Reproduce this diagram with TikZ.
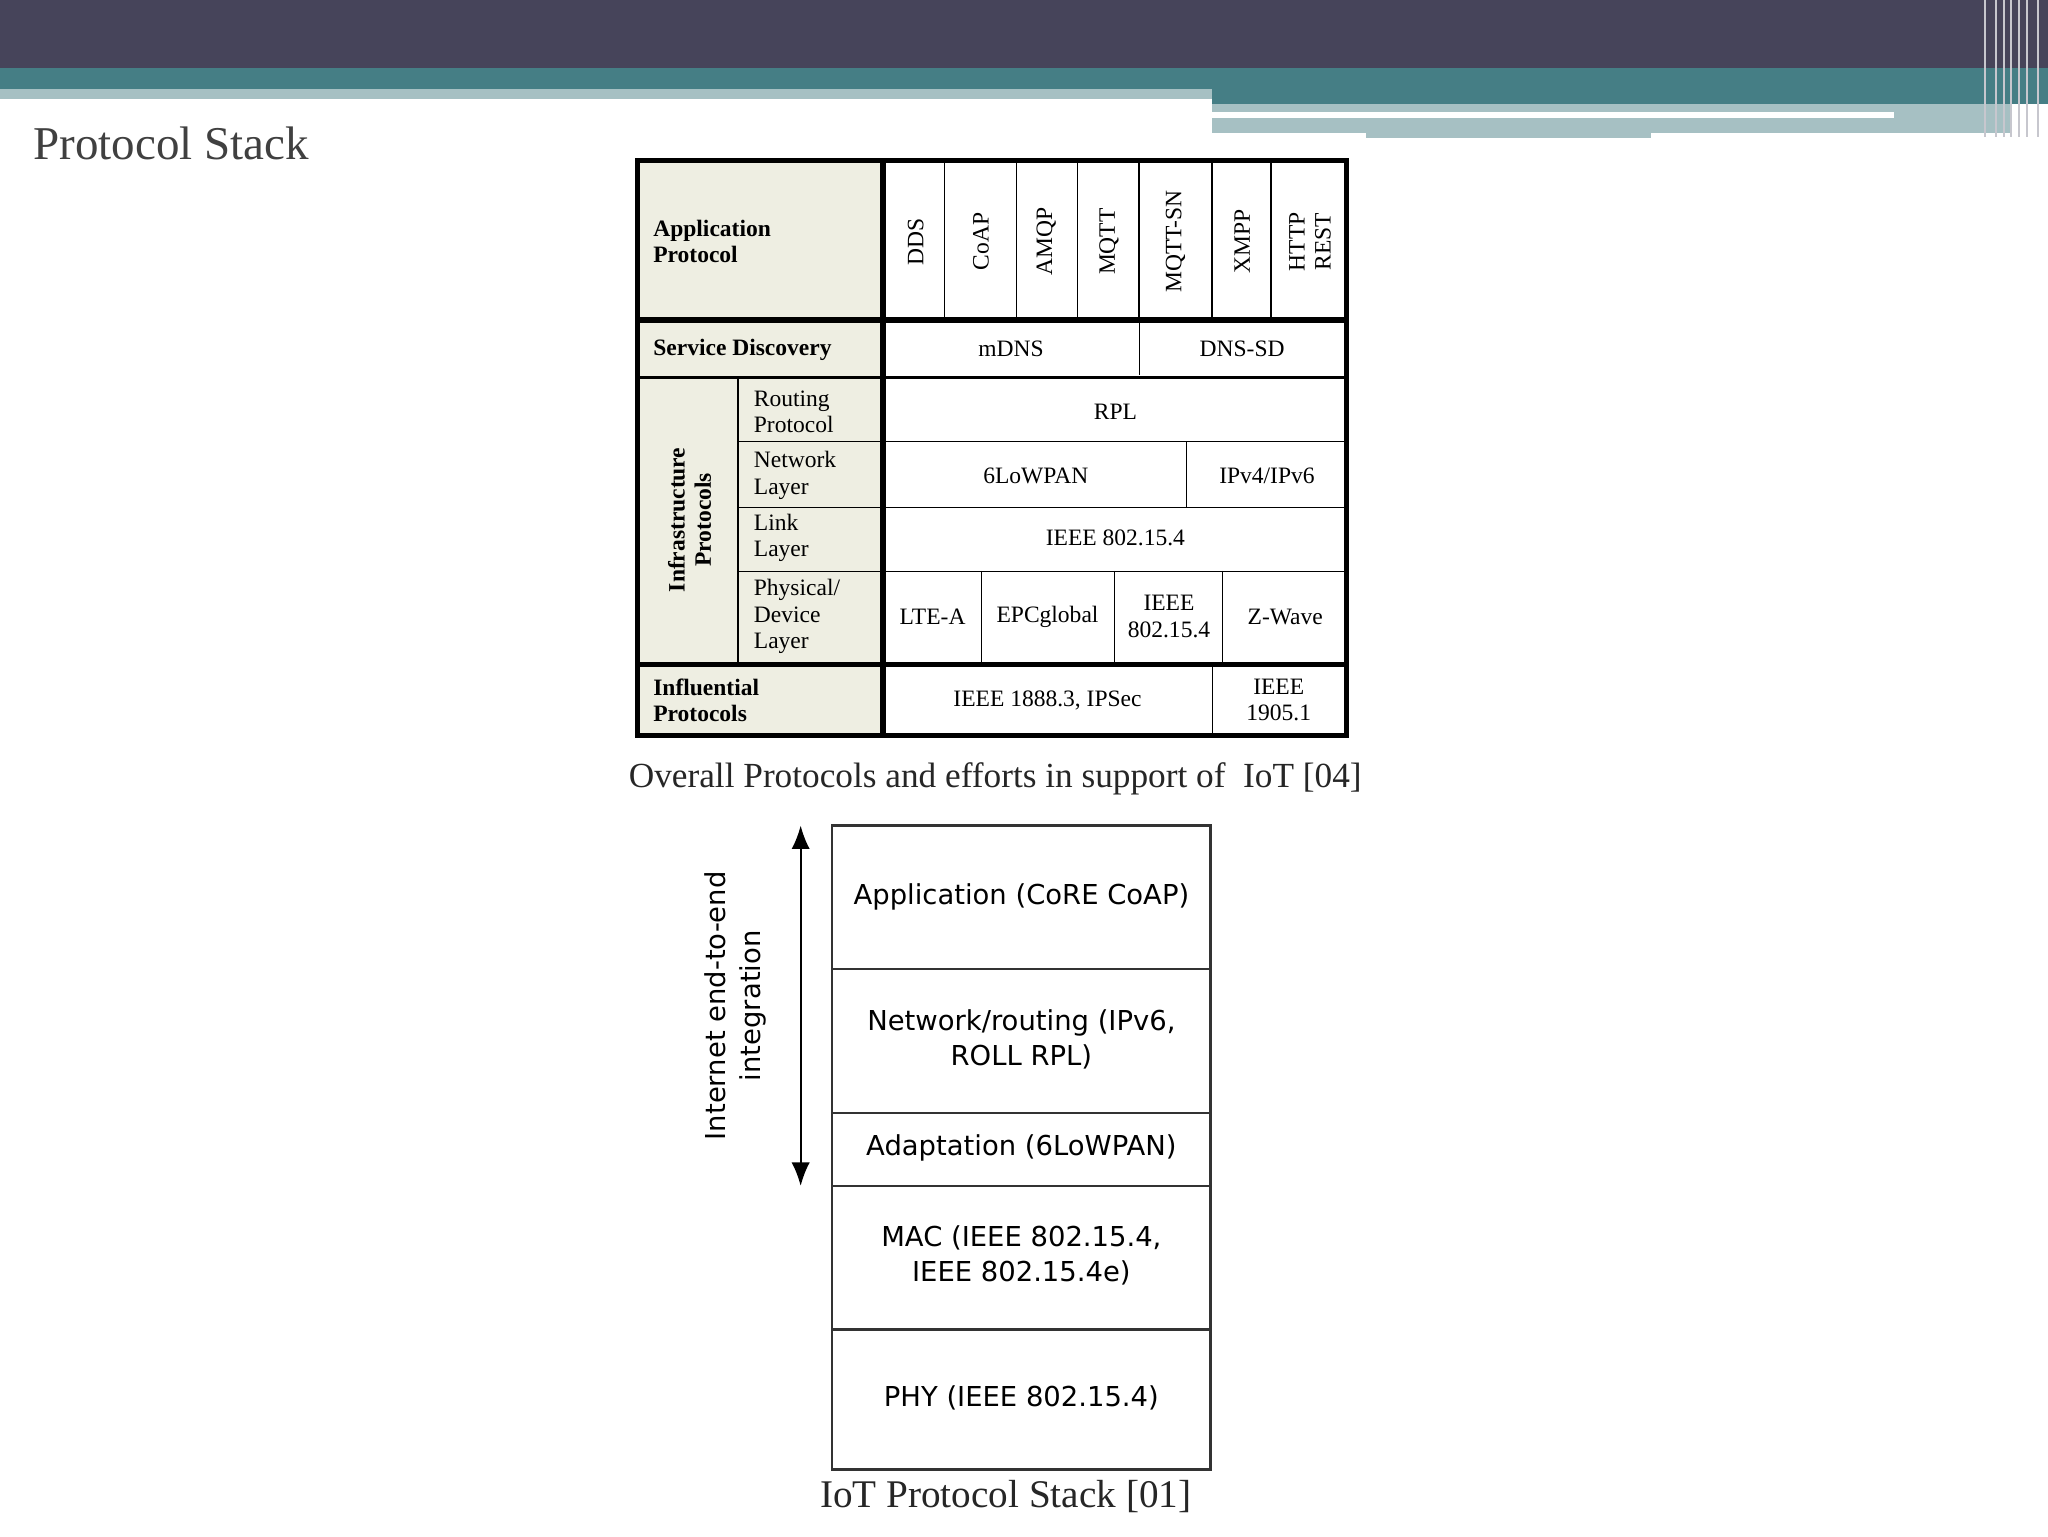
\documentclass[tikz,border=0pt]{standalone}
\usepackage{fontspec}
\usetikzlibrary{arrows.meta}
\setmainfont{Liberation Serif}
\newfontfamily\stk{DejaVu Sans}
\definecolor{dark}{HTML}{46445A}
\definecolor{teal}{HTML}{457E85}
\definecolor{lteal}{HTML}{A6C0C3}
\definecolor{beige}{HTML}{EEEEE2}
\begin{document}
\begin{tikzpicture}[x=1pt,y=-1pt,
 tt/.style={font=\fontsize{18}{20}\selectfont,align=center,inner sep=0},
 tb/.style={font=\bfseries\fontsize{18}{20}\selectfont,align=left,anchor=west,inner sep=0},
 st/.style={font=\stk\fontsize{21}{27}\selectfont,align=center,inner sep=0}]
\useasboundingbox (0,0) rectangle (1568,1176);
\fill[white] (0,0) rectangle (1568,1176);
% top bar
\fill[lteal] (0,68) rectangle (928,76);
\fill[lteal] (928,80) rectangle (1540,105);
\fill[white] (928,86) rectangle (1450,90);
\fill[white] (928,102) rectangle (1540,106);
\fill[lteal] (1046,100) rectangle (1264,106);
\fill[teal] (0,52) rectangle (1568,68);
\fill[teal] (928,52) rectangle (1568,80);
\fill[dark] (0,0) rectangle (1568,52);
\foreach \x in {1520,1528,1534,1540,1546,1552,1560}{\draw[white!70!dark,line width=1.5] (\x,0)--(\x,105);}
\node[anchor=west,text=black!75,font=\fontsize{36}{40}\selectfont] (title) at (22,110) {Protocol Stack};
% table 1
\fill[beige] (490,125) rectangle (674,561);
\draw[line width=4] (488,123) rectangle (1031,563);
\draw[line width=4] (676,123)--(676,563);
\draw[line width=4] (490,245)--(1031,245);
\draw[line width=3] (490,289)--(1031,289);
\draw[line width=4] (490,509)--(1031,509);
\foreach \x in {723,778,825,872,928,973}{\draw[line width=1] (\x,125)--(\x,243);}
\draw (872,247)--(872,287);
\draw[line width=2] (565,289)--(565,509);
\foreach \y in {338,388,437}{\draw (565,\y)--(1031,\y);}
\draw (908,338)--(908,388);
\foreach \x in {751,853,936}{\draw (\x,437)--(\x,508);}
\draw (928,509)--(928,561);
\node[tb] (ap) at (500,185) {Application\\Protocol};
\node[tb] (sd) at (500,268) {Service Discovery};
\node[tb,rotate=90,align=center,anchor=center] (ip) at (528,398) {Infrastructure\\Protocols};
\node[tb] (ifl) at (500,536) {Influential\\Protocols};
\node[tt,anchor=west,align=left] (rp) at (577,315) {Routing\\Protocol};
\node[tt,anchor=west,align=left] (nl) at (577,364) {Network\\Layer};
\node[tt,anchor=west,align=left] (ll) at (577,412) {Link\\Layer};
\node[tt,anchor=west,align=left] (pl) at (577,472) {Physical/\\Device\\Layer};
\foreach \t/\x in {DDS/701,CoAP/751,AMQP/801,MQTT/849,MQTT-SN/900,XMPP/951}{\node[tt,rotate=90] (a\t) at (\x,185) {\t};}
\node[tt,rotate=90] (http) at (1003,185) {HTTP\\REST};
\node[tt] (mdns) at (774,267) {mDNS};
\node[tt] (dnssd) at (951,267) {DNS-SD};
\node[tt] (rpl) at (854,315) {RPL};
\node[tt] (low) at (793,364) {6LoWPAN};
\node[tt] (ipv) at (970,364) {IPv4/IPv6};
\node[tt] (ieee) at (854,412) {IEEE 802.15.4};
\node[tt] (lte) at (714,472) {LTE-A};
\node[tt] (epc) at (802,472) {EPCglobal};
\node[tt] (ie2) at (895,472) {IEEE\\802.15.4};
\node[tt] (zw) at (984,472) {Z-Wave};
\node[tt] (i1888) at (802,536) {IEEE 1888.3, IPSec};
\node[tt] (i1905) at (979,536) {IEEE\\1905.1};
\node[font=\fontsize{27}{30}\selectfont,text=black!85] (cap1) at (762,596) {Overall Protocols and efforts in support of\ \ IoT [04]};
% stack 2
\draw[line width=2,black!80] (637,632) rectangle (927,1125);
\foreach \y in {742,852,908,1018}{\draw[line width=2,black!80] (637,\y)--(927,\y);}
\node[st] (s1) at (782,687) {Application (CoRE CoAP)};
\node[st] (s2) at (782,796) {Network/routing (IPv6,\\ROLL RPL)};
\node[st] (s3) at (782,879) {Adaptation (6LoWPAN)};
\node[st] (s4) at (782,961) {MAC (IEEE 802.15.4,\\IEEE 802.15.4e)};
\node[st] (s5) at (782,1070) {PHY (IEEE 802.15.4)};
\coordinate (at) at (613,632);
\coordinate (ab) at (613,908);
\draw[line width=1.5,{Latex[length=18,width=14]}-{Latex[length=18,width=14]}] (at)--(ab);
\node[st,rotate=90] (arl) at (563,770) {Internet end-to-end\\integration};
\node[font=\fontsize{30}{34}\selectfont,text=black!85] (cap2) at (770,1146) {IoT Protocol Stack [01]};
\end{tikzpicture}
\end{document}
